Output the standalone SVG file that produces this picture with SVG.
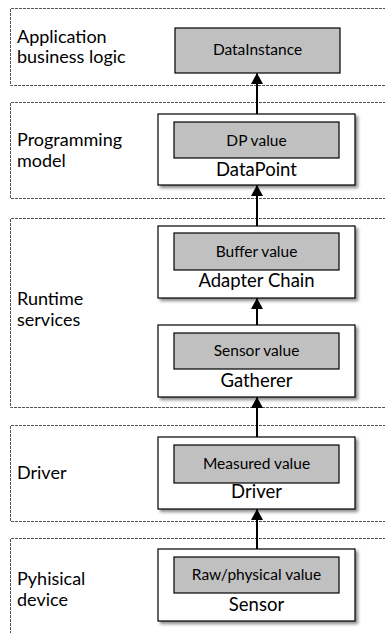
<svg xmlns="http://www.w3.org/2000/svg" width="385" height="633" viewBox="0 0 385 633">
<style>
.layer{fill:none;stroke:#555;stroke-width:1;stroke-dasharray:3 1}
.outer{fill:#fff;stroke:#000;stroke-width:1.2}
.inner{fill:#c0c0c0;stroke:#000;stroke-width:1.2}
.lbl{font-family:Lato,"Liberation Sans",sans-serif;font-size:18px;fill:#000}
.name{font-family:Lato,"Liberation Sans",sans-serif;font-size:18.5px;fill:#000;text-anchor:middle}
.val{font-family:Lato,"Liberation Sans",sans-serif;font-size:15.5px;fill:#000;text-anchor:middle}
.conn{stroke:#000;stroke-width:2;fill:none;marker-end:url(#ah)}
</style>
<defs>
<marker id="ah" markerWidth="11" markerHeight="12" refX="10.5" refY="6" orient="auto" markerUnits="userSpaceOnUse" viewBox="0 0 11 12">
<path d="M0,0 L11,6 L0,12 Z" fill="#000"/>
</marker>
<filter id="sh" x="-10%" y="-10%" width="130%" height="140%">
<feDropShadow dx="2.5" dy="2.5" stdDeviation="1.5" flood-color="#000" flood-opacity="0.45"/>
</filter>
</defs>
<rect width="385" height="633" fill="#fff"/>
<g id="layers">
<g id="layer-app"><path class="layer" d="M390,8.5 H10.5 V85.5 H390"/><text class="lbl" x="17" y="43">Application</text><text class="lbl" x="17" y="63">business logic</text></g>
<g id="layer-prog"><path class="layer" d="M390,102.5 H10.5 V198.5 H390"/><text class="lbl" x="17" y="146">Programming</text><text class="lbl" x="17" y="167">model</text></g>
<g id="layer-runtime"><path class="layer" d="M390,218.5 H10.5 V407.5 H390"/><text class="lbl" x="17" y="305">Runtime</text><text class="lbl" x="17" y="326">services</text></g>
<g id="layer-driver"><path class="layer" d="M390,425.5 H10.5 V521.5 H390"/><text class="lbl" x="17" y="479">Driver</text></g>
<g id="layer-phys"><path class="layer" d="M390,538.5 H10.5 V640"/><text class="lbl" x="17" y="585">Pyhisical</text><text class="lbl" x="17" y="606">device</text></g>
</g>
<g id="connectors">
<line class="conn" x1="257" y1="549" x2="257" y2="509.5"/>
<line class="conn" x1="257" y1="437" x2="257" y2="397.5"/>
<line class="conn" x1="257" y1="325" x2="257" y2="298.5"/>
<line class="conn" x1="257" y1="226" x2="257" y2="185.5"/>
<line class="conn" x1="257" y1="114" x2="257" y2="73.5"/>
</g>
<g id="DataInstance"><rect class="inner" x="175" y="28" width="165" height="45"/><text class="val" x="257.5" y="55">DataInstance</text></g>
<g id="DataPoint"><rect class="outer" filter="url(#sh)" x="158" y="114" width="197" height="71"/><rect class="inner" x="174" y="122" width="165" height="36"/><text class="val" x="256.5" y="146">DP value</text><text class="name" x="256.5" y="176">DataPoint</text></g>
<g id="AdapterChain"><rect class="outer" filter="url(#sh)" x="158" y="226" width="197" height="72"/><rect class="inner" x="174" y="233" width="165" height="37"/><text class="val" x="256.5" y="257">Buffer value</text><text class="name" x="256.5" y="287">Adapter Chain</text></g>
<g id="Gatherer"><rect class="outer" filter="url(#sh)" x="158" y="325" width="197" height="72"/><rect class="inner" x="174" y="333" width="165" height="36"/><text class="val" x="256.5" y="356">Sensor value</text><text class="name" x="256.5" y="387">Gatherer</text></g>
<g id="Driver"><rect class="outer" filter="url(#sh)" x="158" y="437" width="197" height="72"/><rect class="inner" x="174" y="445" width="165" height="38"/><text class="val" x="256.5" y="469">Measured value</text><text class="name" x="256.5" y="498">Driver</text></g>
<g id="Sensor"><rect class="outer" filter="url(#sh)" x="158" y="549" width="197" height="72"/><rect class="inner" x="174" y="557" width="165" height="36"/><text class="val" x="256.5" y="580">Raw/physical value</text><text class="name" x="256.5" y="611">Sensor</text></g>
</svg>
